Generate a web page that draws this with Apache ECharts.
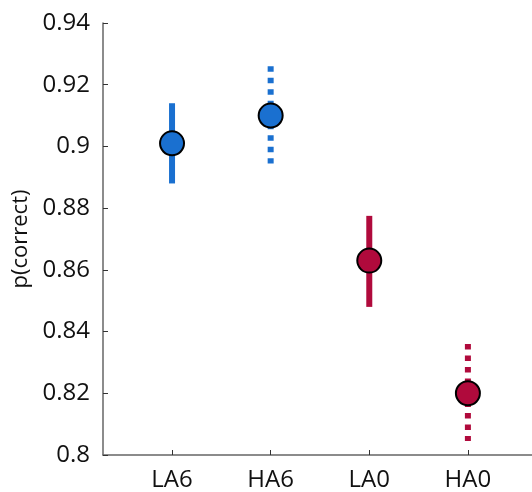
<!DOCTYPE html>
<html>
<head>
<meta charset="utf-8">
<script src="https://cdn.jsdelivr.net/npm/echarts@6/dist/echarts.min.js"></script>
<style>html,body{margin:0;padding:0;background:#fff}#c{width:532px;height:492px}</style>
</head>
<body>
<div id="c"></div>
<script>
var categories = ['LA6', 'HA6', 'LA0', 'HA0'];
var means = [0.901, 0.910, 0.863, 0.820];
var upper = [0.914, 0.926, 0.8775, 0.836];
var lower = [0.888, 0.8945, 0.848, 0.8045];
var dotted = [false, true, false, true];
var colors = ['#1a70d0', '#1a70d0', '#b00a3c', '#b00a3c'];
var yTicks = [0.8, 0.82, 0.84, 0.86, 0.88, 0.9, 0.92, 0.94];

var FONT = 'Open Sans';
var chart = echarts.init(document.getElementById('c'), null, {renderer: 'canvas'});

var barData = categories.map(function (c, i) { return [i + 1, lower[i], upper[i], i]; });
var pointData = categories.map(function (c, i) {
  return {value: [i + 1, means[i]], itemStyle: {color: colors[i]}};
});

chart.setOption({
  animation: false,
  grid: {left: 103, right: 0, top: 23, bottom: 35, containLabel: false},
  xAxis: {
    type: 'value', min: 0.3, max: 4.65,
    axisLine: {show: true, lineStyle: {color: '#666', width: 1.5}},
    axisTick: {show: true, inside: true, length: 5, customValues: [1, 2, 3, 4], lineStyle: {color: '#333', width: 1}},
    axisLabel: {
      customValues: [1, 2, 3, 4], margin: 13,
      fontFamily: FONT, fontSize: 24, color: '#111',
      formatter: function (v) { return categories[Math.round(v) - 1] || ''; }
    },
    splitLine: {show: false}
  },
  yAxis: {
    type: 'value', min: 0.8, max: 0.94, interval: 0.02,
    name: 'p(correct)', nameLocation: 'middle', nameGap: 62,
    nameTextStyle: {fontFamily: FONT, fontSize: 22, color: '#111'},
    axisLine: {show: true, lineStyle: {color: '#666', width: 1.5}},
    axisTick: {show: true, inside: true, length: 5, lineStyle: {color: '#333', width: 1}},
    axisLabel: {
      margin: 13, fontFamily: FONT, fontSize: 24, color: '#111',
      formatter: function (v) { return String(parseFloat(v.toFixed(2))); }
    },
    splitLine: {show: false}
  },
  series: [
    {
      type: 'custom',
      data: barData,
      encode: {x: 0, y: [1, 2]},
      renderItem: function (params, api) {
        var x = api.value(0);
        var idx = api.value(3);
        var p1 = api.coord([x, api.value(2)]);
        var p2 = api.coord([x, api.value(1)]);
        return {
          type: 'line',
          shape: {x1: p1[0], y1: p1[1], x2: p2[0], y2: p2[1]},
          style: {
            stroke: colors[idx], lineWidth: 6, lineCap: 'butt',
            lineDash: dotted[idx] ? [5.5, 6] : null
          }
        };
      },
      z: 2
    },
    {
      type: 'scatter',
      data: pointData,
      symbol: 'circle',
      symbolSize: 24,
      itemStyle: {borderColor: '#000', borderWidth: 2, opacity: 1},
      z: 3
    }
  ]
});
</script>
</body>
</html>
